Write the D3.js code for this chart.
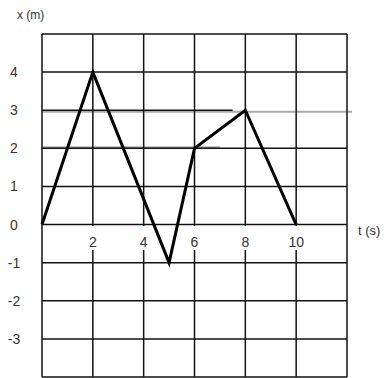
<!DOCTYPE html>
<html>
<head>
<meta charset="utf-8">
<script src="https://cdn.jsdelivr.net/npm/d3@7"></script>
<style>
  body { margin: 0; background: #fff; }
  svg { display: block; }
</style>
</head>
<body>
<div id="chart"></div>
<script>
"use strict"

// data
var times = [0, 2, 5, 6, 8, 10];
var positions = [0, 4, -1, 2, 3, 0];
var gridT = [0, 2, 4, 6, 8, 10, 12];
var gridX = [-4, -3, -2, -1, 0, 1, 2, 3, 4, 5];
var tLabels = [2, 4, 6, 8, 10];
var xLabels = [4, 3, 2, 1, 0, -1, -2, -3];

var width = 390, height = 378;

var svg = d3.select("#chart").append("svg")
  .attr("width", width)
  .attr("height", height);

var xScale = d3.scaleLinear().domain([0, 12]).range([42, 347]);
var yScale = d3.scaleLinear().domain([-4, 5]).range([377, 34]);

// gray double lines under the grid
svg.append("line")
  .attr("x1", xScale(0)).attr("x2", xScale(12) + 5)
  .attr("y1", yScale(3) + 1.5).attr("y2", yScale(3) + 1.5)
  .attr("stroke", "#aaa")
  .attr("stroke-width", 2);

svg.append("line")
  .attr("x1", xScale(0)).attr("x2", xScale(7))
  .attr("y1", yScale(2) - 1).attr("y2", yScale(2) - 1)
  .attr("stroke", "#aaa")
  .attr("stroke-width", 2);

// horizontal grid lines
svg.selectAll(".hline")
  .data(gridX)
  .enter().append("line")
  .attr("class", "hline")
  .attr("x1", xScale(0))
  .attr("x2", function(d){ return d == 3 ? xScale(7.5) : xScale(12); })
  .attr("y1", function(d){ return yScale(d); })
  .attr("y2", function(d){ return yScale(d); })
  .attr("stroke", "#111")
  .attr("stroke-width", 1.5);

// vertical grid lines
svg.selectAll(".vline")
  .data(gridT)
  .enter().append("line")
  .attr("class", "vline")
  .attr("x1", function(d){ return xScale(d); })
  .attr("x2", function(d){ return xScale(d); })
  .attr("y1", yScale(5))
  .attr("y2", yScale(-4))
  .attr("stroke", "#111")
  .attr("stroke-width", 1.5);

// t tick labels sit on white boxes under the axis
var tTicks = svg.selectAll(".tlabel")
  .data(tLabels)
  .enter().append("g")
  .attr("class", "tlabel")
  .attr("transform", function(d){ return "translate(" + xScale(d) + "," + yScale(0) + ")"; });

tTicks.append("rect")
  .attr("x", -10).attr("y", 1.5)
  .attr("width", 20).attr("height", 24)
  .attr("fill", "#fff");

tTicks.append("text")
  .attr("y", 22)
  .attr("text-anchor", "middle")
  .style("font-family", "'Liberation Sans', Arial, sans-serif")
  .style("font-size", "14px")
  .style("fill", "#333")
  .text(function(d){ return d; });

// x tick labels on the left
svg.selectAll(".xlabel")
  .data(xLabels)
  .enter().append("text")
  .attr("class", "xlabel")
  .attr("x", 14)
  .attr("y", function(d){ return yScale(d) + 5; })
  .attr("text-anchor", "middle")
  .style("font-family", "'Liberation Sans', Arial, sans-serif")
  .style("font-size", "14px")
  .style("fill", "#333")
  .text(function(d){ return d; });

// axis titles
svg.append("text")
  .attr("x", 17).attr("y", 19)
  .style("font-family", "'Liberation Sans', Arial, sans-serif")
  .style("font-size", "12px")
  .style("fill", "#333")
  .text("x (m)");

svg.append("text")
  .attr("x", 358).attr("y", 235)
  .style("font-family", "'Liberation Sans', Arial, sans-serif")
  .style("font-size", "13px")
  .style("fill", "#333")
  .text("t (s)");

// position-time path
var line = d3.line()
  .x(function(d){ return xScale(d[0]); })
  .y(function(d){ return yScale(d[1]); });

svg.append("path")
  .datum(d3.zip(times, positions))
  .attr("d", line)
  .attr("fill", "none")
  .attr("stroke", "#000")
  .attr("stroke-width", 3)
  .attr("stroke-linejoin", "miter");
</script>
</body>
</html>
